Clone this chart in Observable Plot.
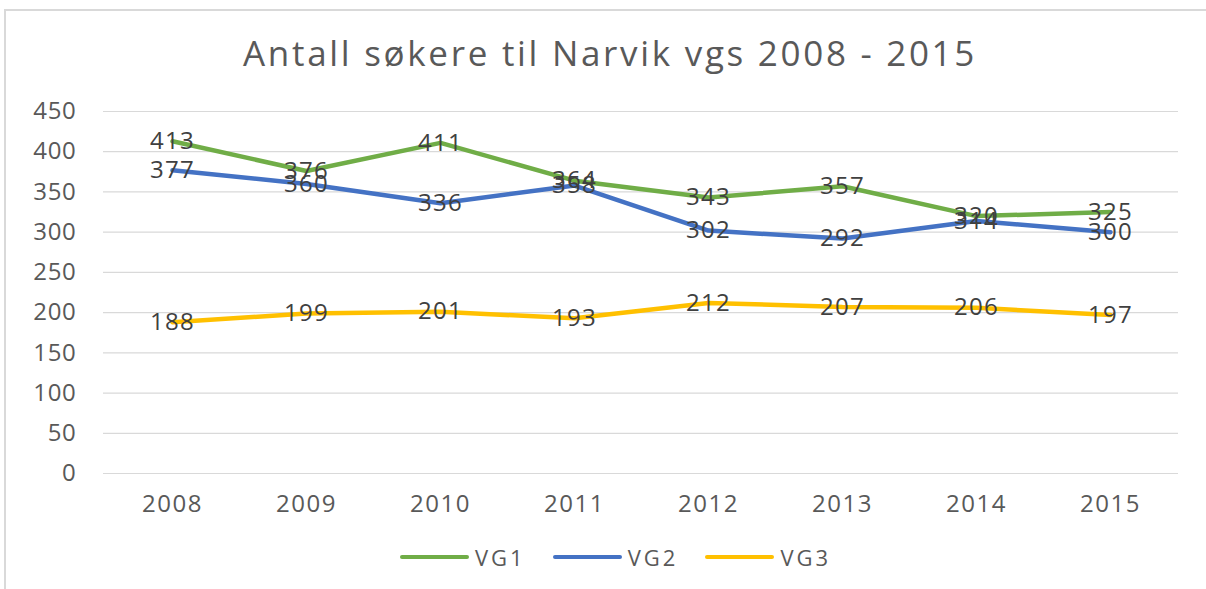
<!DOCTYPE html>
<html>
<head>
<meta charset="utf-8">
<script src="https://cdn.jsdelivr.net/npm/d3@7"></script>
<script src="https://cdn.jsdelivr.net/npm/@observablehq/plot@0.6"></script>
<style>
  html, body { margin: 0; padding: 0; background: #fff; }
  #wrap { position: relative; width: 1206px; height: 589px; overflow: hidden; font-family: "Open Sans", sans-serif; }
  #frame { position: absolute; left: 4px; top: 9px; width: 1210px; height: 590px; border-top: 2px solid #d9d9d9; border-left: 2px solid #d9d9d9; box-sizing: border-box; }
  #title { position: absolute; left: 0; width: 1220px; top: 29px; text-align: center; font-size: 35px; color: #595959; letter-spacing: 2.7px; }
  #chart { position: absolute; left: 0; top: 0; }
  #legend { position: absolute; top: 542px; left: 400px; display: flex; align-items: center; font-size: 22px; color: #595959; letter-spacing: 3px; }
  .item { display: flex; align-items: center; margin-right: 27px; }
  .sw { width: 69px; height: 4px; border-radius: 2px; margin-right: 6px; }
  #chart svg g[aria-label="y-axis tick label"] text { letter-spacing: 0.7px; }
  #chart svg g[aria-label="x-axis tick label"] text { letter-spacing: 1.5px; }
  #chart svg g[aria-label="text"] text { letter-spacing: 1.3px; }
</style>
</head>
<body>
<div id="wrap">
  <div id="frame"></div>
  <div id="chart"></div>
  <div id="title">Antall søkere til Narvik vgs 2008 - 2015</div>
  <div id="legend"></div>
</div>
<script>
const years = ["2008", "2009", "2010", "2011", "2012", "2013", "2014", "2015"];
const seriesNames = ["VG1", "VG2", "VG3"];
const vg1 = [413, 376, 411, 364, 343, 357, 320, 325];
const vg2 = [377, 360, 336, 358, 302, 292, 314, 300];
const vg3 = [188, 199, 201, 193, 212, 207, 206, 197];
const yTicks = [0, 50, 100, 150, 200, 250, 300, 350, 400, 450];
const colors = ["#70AD47", "#4472C4", "#FFC000"];

const allValues = [vg1, vg2, vg3];
const data = [];
seriesNames.forEach((s, i) => {
  years.forEach((y, j) => data.push({series: s, year: y, value: allValues[i][j]}));
});

const chart = Plot.plot({
  width: 1206,
  height: 589,
  marginTop: 111,
  marginBottom: 116,
  marginLeft: 103,
  marginRight: 28,
  style: {background: "transparent", fontFamily: "Open Sans, sans-serif"},
  x: {type: "point", domain: years, padding: 0.5, label: null},
  y: {domain: [0, 450], label: null},
  color: {domain: seriesNames, range: colors},
  marks: [
    Plot.gridY(yTicks, {stroke: "#d9d9d9", strokeOpacity: 1, strokeWidth: 1.2}),
    Plot.axisY({ticks: yTicks, tickSize: 0, tickPadding: 27, fontSize: 24, fill: "#595959", label: null}),
    Plot.axisX({tickSize: 0, tickPadding: 21, fontSize: 24, fill: "#595959", label: null}),
    Plot.line(data, {x: "year", y: "value", z: "series", stroke: "series", strokeWidth: 4.5, strokeLinejoin: "round", strokeLinecap: "round"}),
    Plot.text(data, {x: "year", y: "value", text: d => String(d.value), fill: "#404040", fontSize: 24})
  ]
});
document.getElementById("chart").appendChild(chart);

const legend = document.getElementById("legend");
seriesNames.forEach((s, i) => {
  const item = document.createElement("div");
  item.className = "item";
  const sw = document.createElement("div");
  sw.className = "sw";
  sw.style.background = colors[i];
  const t = document.createElement("span");
  t.textContent = s;
  item.appendChild(sw);
  item.appendChild(t);
  legend.appendChild(item);
});
</script>
</body>
</html>
